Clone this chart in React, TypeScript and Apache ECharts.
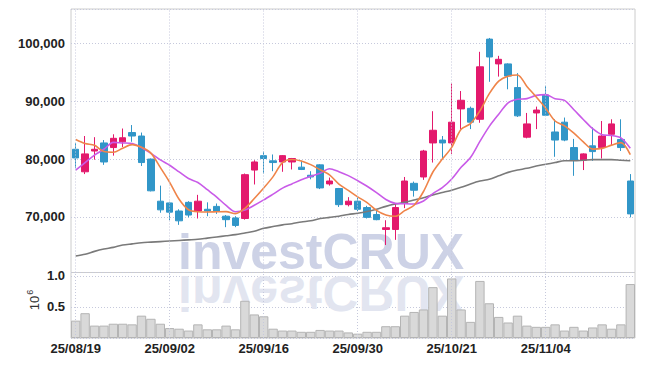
import React, { useEffect, useRef } from 'react';
import * as echarts from 'echarts';

const dates = [
  '25/08/19', '25/08/20', '25/08/21', '25/08/22', '25/08/25', '25/08/26', '25/08/27', '25/08/28', '25/08/29',
  '25/09/01', '25/09/02', '25/09/03', '25/09/04', '25/09/05', '25/09/08', '25/09/09', '25/09/10', '25/09/11',
  '25/09/12', '25/09/15', '25/09/16', '25/09/17', '25/09/18', '25/09/19', '25/09/22', '25/09/23', '25/09/24',
  '25/09/25', '25/09/26', '25/09/29', '25/09/30', '25/10/01', '25/10/02', '25/10/10', '25/10/13', '25/10/14',
  '25/10/15', '25/10/16', '25/10/17', '25/10/20', '25/10/21', '25/10/22', '25/10/23', '25/10/24', '25/10/27',
  '25/10/28', '25/10/29', '25/10/30', '25/10/31', '25/11/03', '25/11/04', '25/11/05', '25/11/06', '25/11/07',
  '25/11/10', '25/11/11', '25/11/12', '25/11/13', '25/11/14', '25/11/17',
];

// dates that carry a label and a vertical grid line
const tickDates = ['25/08/19', '25/09/02', '25/09/16', '25/09/30', '25/10/21', '25/11/04'];

const opens = [
  81700, 77800, 81400, 82800, 82000, 83000, 84600, 84000, 80000, 72700,
  72400, 71000, 72500, 71000, 71300, 71800, 70100, 69800, 69700, 78100,
  80600, 79700, 79500, 79500, 78600, 77200, 79000, 75700, 74900, 72100,
  72700, 71600, 70400, 67800, 67800, 72300, 75800, 76900, 82800, 83300,
  82800, 88700, 88800, 86900, 100800, 96500, 96500, 92400, 83800, 88000,
  91100, 84700, 86400, 82000, 79800, 82300, 82000, 84300, 83400, 76200,
];
const closes = [
  80200, 80900, 81700, 79500, 83600, 83700, 84000, 79400, 74500, 71200,
  70800, 69300, 70300, 72700, 71000, 71000, 69500, 68500, 77300, 79500,
  80100, 79400, 80600, 80100, 78200, 76900, 75000, 76200, 72100, 72700,
  71300, 69900, 69500, 68100, 71600, 76200, 74600, 81400, 85000, 82800,
  86400, 90200, 86400, 96000, 97700, 97300, 94400, 87500, 86100, 88500,
  87600, 83300, 83300, 79800, 80900, 81300, 84000, 86100, 82000, 70500,
];
const lows = [
  78400, 77400, 79900, 79000, 80600, 82100, 83000, 78800, 74400, 70700,
  69400, 68600, 69900, 69700, 70100, 70500, 68200, 68200, 69500, 75600,
  77500, 77900, 77800, 78200, 78100, 76500, 74800, 75400, 71700, 71800,
  71000, 69700, 69400, 65100, 66000, 71500, 73500, 76400, 79400, 80200,
  80900, 85200, 85200, 86300, 93400, 94300, 92100, 87300, 83600, 85200,
  87500, 80400, 83100, 77100, 78100, 79700, 80100, 82300, 81400, 69900,
];
const highs = [
  82800, 84000, 83800, 83300, 84300, 85300, 85900, 84600, 80100, 75400,
  72600, 71300, 72700, 73800, 72500, 72300, 70300, 70100, 77500, 79800,
  81300, 80800, 80700, 80200, 79700, 77900, 79100, 76800, 75000, 73400,
  73500, 71900, 71300, 69400, 72300, 76900, 76100, 81600, 88300, 84000,
  93100, 91800, 89100, 98600, 101000, 97900, 96600, 94900, 88000, 89100,
  92700, 86900, 87200, 83500, 81000, 85500, 86600, 86900, 86900, 77400,
];

// trading volume, millions of shares
const volumes = [
  0.28, 0.40, 0.20, 0.20, 0.23, 0.23, 0.22, 0.36, 0.31, 0.23,
  0.16, 0.15, 0.12, 0.22, 0.14, 0.14, 0.20, 0.14, 0.60, 0.38,
  0.35, 0.15, 0.12, 0.12, 0.10, 0.10, 0.13, 0.12, 0.12, 0.09,
  0.07, 0.10, 0.10, 0.19, 0.19, 0.36, 0.42, 0.46, 0.82, 0.36,
  0.96, 0.46, 0.26, 0.92, 0.56, 0.34, 0.25, 0.36, 0.20, 0.18,
  0.18, 0.22, 0.12, 0.18, 0.12, 0.17, 0.22, 0.15, 0.22, 0.87,
];

// leading moving-average values (their windows start before the shown range)
const ma5Lead = [83400, 82700, 82400, 81300];
const ma10Lead = [78100, 79400, 80700, 81700, 82900, 82800, 82700, 82000, 81000];

// long moving average (grey line)
const maLong = [
  63200, 63500, 64000, 64400, 64700, 65100, 65300, 65500, 65600, 65700,
  65800, 65900, 66000, 66100, 66300, 66500, 66700, 66900, 67200, 67500,
  68000, 68300, 68600, 68800, 69100, 69300, 69700, 69900, 70100, 70400,
  70600, 70900, 71300, 71800, 72200, 72500, 72900, 73300, 73800, 74200,
  74600, 75100, 75700, 76200, 76500, 77100, 77700, 78100, 78400, 78800,
  79100, 79400, 79700, 79700, 79800, 79900, 79900, 79900, 79800, 79700,
];

const movingAverage = (n: number, lead: number[]) =>
  closes.map((_, i) => {
    if (i < n - 1) return lead[i];
    let s = 0;
    for (let k = i - n + 1; k <= i; k++) s += closes[k];
    return Math.round(s / n);
  });

const UP = '#e3196c';
const DOWN = '#3196c8';
const GRID_DOT = '#c6c9dc';
const FRAME = '#cccccc';
const AXIS_FONT = "'Liberation Sans Narrow', 'Liberation Sans', Arial, sans-serif";
const MARK_FONT = "'Liberation Sans', Arial, sans-serif";

export default function App() {
  const ref = useRef<HTMLDivElement>(null);

  useEffect(() => {
    document.body.style.margin = '0';
    if (!ref.current) return;
    const chart = echarts.init(ref.current, undefined, { renderer: 'svg' });

    const candleData = dates.map((_, i) => [opens[i], closes[i], lows[i], highs[i]]);
    const ma5 = movingAverage(5, ma5Lead);
    const ma10 = movingAverage(10, ma10Lead);

    const labelStyle = {
      fontFamily: AXIS_FONT,
      fontSize: 13,
      fontWeight: 'bold' as const,
      color: '#222',
    };
    const dottedStyle = { color: GRID_DOT, type: [1, 2], width: 1 };
    const vLines = {
      silent: true,
      symbol: ['none', 'none'],
      label: { show: false },
      lineStyle: dottedStyle,
      emphasis: { disabled: true },
      animation: false,
      data: tickDates.map((d) => ({ xAxis: d })),
    };

    chart.setOption({
      animation: false,
      backgroundColor: '#ffffff',
      grid: [
        { left: 71, top: 9, width: 564, height: 263.5, show: true, borderColor: FRAME, borderWidth: 1 },
        { left: 71, top: 272.5, width: 564, height: 65.5, show: true, borderColor: FRAME, borderWidth: 1 },
      ],
      xAxis: [
        {
          type: 'category', gridIndex: 0, data: dates, boundaryGap: true,
          axisLine: { show: false }, axisTick: { show: false }, axisLabel: { show: false },
          splitLine: { show: false },
        },
        {
          type: 'category', gridIndex: 1, data: dates, boundaryGap: true,
          axisLine: { show: false }, axisTick: { show: false },
          axisLabel: { ...labelStyle, interval: 9, margin: 4 },
          splitLine: { show: false },
        },
      ],
      yAxis: [
        {
          type: 'value', gridIndex: 0, min: 60340, max: 106020, splitNumber: 5, scale: true,
          axisLine: { show: false }, axisTick: { show: false },
          axisLabel: {
            ...labelStyle, margin: 6,
            formatter: (v: number) => (v % 10000 === 0 ? v.toLocaleString('en-US') : ''),
          },
          splitLine: { show: true, lineStyle: dottedStyle },
        },
        {
          type: 'value', gridIndex: 1, min: 0, max: 1.056, interval: 0.5,
          axisLine: { show: false }, axisTick: { show: false },
          axisLabel: {
            ...labelStyle, margin: 6,
            formatter: (v: number) => (v > 0 && Math.abs(v * 2 - Math.round(v * 2)) < 1e-6 ? v.toFixed(1) : ''),
          },
          splitLine: { show: true, lineStyle: dottedStyle },
        },
      ],
      graphic: [
        {
          type: 'text', x: 178, y: 251.5, z: 1, silent: true,
          style: { text: 'investCRUX', font: `bold 50px ${MARK_FONT}`, fill: '#cdd2e6', verticalAlign: 'middle', align: 'left' },
        },
        {
          type: 'group', x: 0, y: 273, scaleY: -1, z: 1, silent: true,
          children: [
            {
              type: 'text', x: 178, y: -19.5, z: 1,
              style: { text: 'investCRUX', font: `bold 50px ${MARK_FONT}`, fill: '#e2e5f0', verticalAlign: 'middle', align: 'left' },
            },
          ],
        },
        {
          type: 'text', x: 33, y: 300, rotation: Math.PI / 2, z: 5, silent: true,
          style: {
            text: '{a|10}{b|6}',
            align: 'center', verticalAlign: 'middle',
            rich: {
              a: { fontSize: 13, fontFamily: MARK_FONT, fill: '#333', verticalAlign: 'bottom' },
              b: { fontSize: 9, fontFamily: MARK_FONT, fill: '#333', verticalAlign: 'top', padding: [0, 0, 6, 1] },
            },
          },
        },
      ],
      series: [
        {
          type: 'candlestick', name: 'price', xAxisIndex: 0, yAxisIndex: 0, data: candleData, barWidth: 7,
          itemStyle: { color: UP, color0: DOWN, borderColor: UP, borderColor0: DOWN, borderWidth: 1 },
          markLine: vLines,
        },
        {
          type: 'line', name: 'MA60', xAxisIndex: 0, yAxisIndex: 0, data: maLong, symbol: 'none', smooth: 0.3,
          lineStyle: { color: '#7a7a7a', width: 1.6 },
        },
        {
          type: 'line', name: 'MA10', xAxisIndex: 0, yAxisIndex: 0, data: ma10, symbol: 'none', smooth: 0.3,
          lineStyle: { color: '#c95be8', width: 1.6 },
        },
        {
          type: 'line', name: 'MA5', xAxisIndex: 0, yAxisIndex: 0, data: ma5, symbol: 'none', smooth: 0.3,
          lineStyle: { color: '#ef8449', width: 1.6 },
        },
        {
          type: 'bar', name: 'volume', xAxisIndex: 1, yAxisIndex: 1, data: volumes, barCategoryGap: '0%',
          itemStyle: { color: '#d9d9d9', borderColor: '#b4b4b4', borderWidth: 1 },
          markLine: vLines,
        },
      ],
    });

    return () => chart.dispose();
  }, []);

  return (
    <div
      ref={ref}
      style={{ position: 'absolute', left: 0, top: 0, width: 645, height: 366, background: '#fff' }}
    />
  );
}
